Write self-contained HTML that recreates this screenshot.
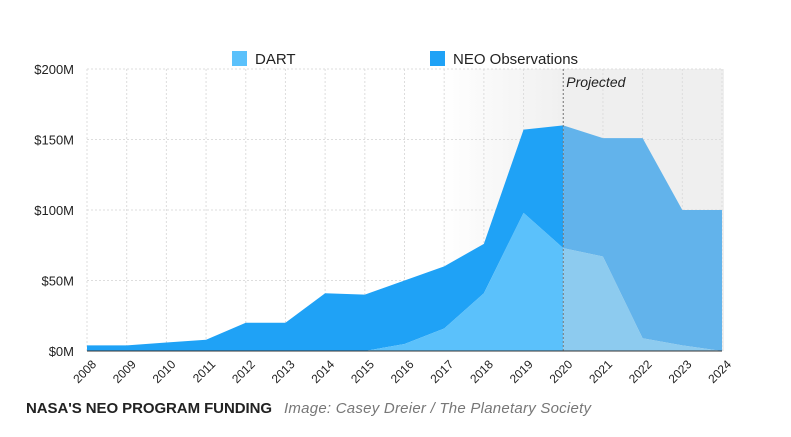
<!DOCTYPE html>
<html><head><meta charset="utf-8"><style>
body{margin:0;background:#fff;width:791px;height:432px;overflow:hidden;font-family:"Liberation Sans",sans-serif}
</style></head><body>
<svg id="chart" width="791" height="432" xmlns="http://www.w3.org/2000/svg">
<defs><linearGradient id="fade" x1="0" x2="1" y1="0" y2="0"><stop offset="0" stop-color="#f0f0f0" stop-opacity="0"/><stop offset="1" stop-color="#f0f0f0"/></linearGradient></defs>
<g id="g"></g>
</svg>
<script>
const years=[2008,2009,2010,2011,2012,2013,2014,2015,2016,2017,2018,2019,2020,2021,2022,2023,2024];
const totals=[4,4,6,8,20,20,41,40,50,60,76,157,160,151,151,100,100];
const dart=[0,0,0,0,0,0,0,0,5,16,41,98,73,67,9,4,0];
const yTicks=[0,50,100,150,200];
const projStart=2020;
const NS="http://www.w3.org/2000/svg";
const g=document.getElementById('g');
const x0=87,x1=722,yb=351,yt=69;
const xs=i=>x0+(x1-x0)*i/(years.length-1);
const ys=v=>yb-(yb-yt)*v/200;
function mk(t,a,p){const e=document.createElementNS(NS,t);for(const k in a)e.setAttribute(k,a[k]);(p||g).appendChild(e);return e;}
const pi=years.indexOf(projStart);
let e=mk('rect',{x:440,y:yt,width:xs(pi)-440,height:yb-yt,fill:'url(#fade)'});

e=mk('rect',{x:xs(pi),y:yt,width:x1-xs(pi)+2,height:yb-yt,fill:'#efefef'});

years.forEach((y,i)=>{const l=mk('line',{x1:xs(i),x2:xs(i),y1:yt,y2:yb,stroke:'#ddd','stroke-dasharray':'2,2'});
});
yTicks.forEach(v=>{const l=mk('line',{x1:x0,x2:x1,y1:ys(v),y2:ys(v),stroke:'#ddd','stroke-dasharray':'2,2'});

const t=mk('text',{x:74,y:ys(v)+5,'text-anchor':'end','font-size':13,fill:'#222'});t.textContent='$'+v+'M';
});
function area(top,bot,a,b,fill,name){let d='';for(let i=a;i<=b;i++)d+=(i==a?'M':'L')+xs(i)+','+ys(top[i]);
for(let i=b;i>=a;i--)d+='L'+xs(i)+','+ys(bot[i]);const p=mk('path',{d:d+'Z',fill:fill});
}
const zero=years.map(()=>0);
area(totals,dart,0,pi,'#1fa2f6','neo-observations-area');
area(dart,zero,0,pi,'#5bc1fb','dart-area');
area(totals,dart,pi,years.length-1,'#62b3eb','neo-observations-projected-area');
area(dart,zero,pi,years.length-1,'#8dcbef','dart-projected-area');
e=mk('line',{x1:xs(pi),x2:xs(pi),y1:yt,y2:yb,stroke:'#777','stroke-dasharray':'2,2'});

e=mk('text',{x:xs(pi)+3,y:87,'font-size':14,'font-style':'italic',fill:'#222'});e.textContent='Projected';

e=mk('line',{x1:x0,x2:x1,y1:yb,y2:yb,stroke:'#333'});

years.forEach((y,i)=>{const t=mk('text',{x:xs(i)+10,y:yb+14,'text-anchor':'end','font-size':12,fill:'#222',transform:`rotate(-45 ${xs(i)+10} ${yb+14})`});
t.textContent=y;});
[[232,'#5bc1fb','DART'],[430,'#1fa2f6','NEO Observations']].forEach(([x,c,s])=>{
const r=mk('rect',{x:x,y:51,width:15,height:15,fill:c});
const t=mk('text',{x:x+23,y:64,'font-size':15,fill:'#222'});t.textContent=s;});
e=mk('text',{x:26,y:413,'font-size':15,'font-weight':'bold',fill:'#222',textLength:246});e.textContent="NASA'S NEO PROGRAM FUNDING";

e=mk('text',{x:284,y:413,'font-size':15,'font-style':'italic',fill:'#777',textLength:307});e.textContent='Image: Casey Dreier / The Planetary Society';

</script>
</body></html>
